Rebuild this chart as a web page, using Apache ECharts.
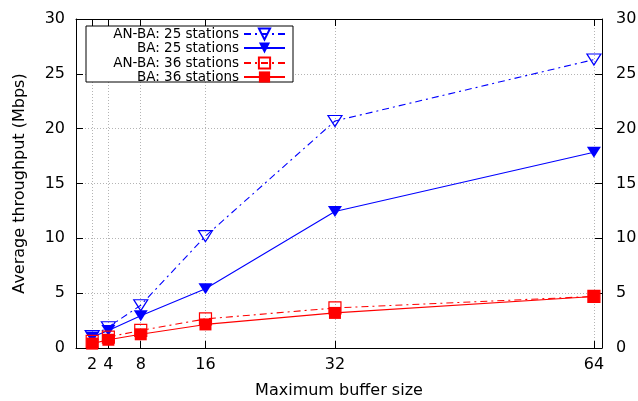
<!DOCTYPE html>
<html><head><meta charset="utf-8">
<script src="https://cdn.jsdelivr.net/npm/echarts@6/dist/echarts.min.js"></script>
<style>html,body{margin:0;padding:0;background:#fff}#c{width:638px;height:401px}</style>
</head><body><div id="c"></div>
<script>
const xTicks = [2, 4, 8, 16, 32, 64];
const yTicks = [0, 5, 10, 15, 20, 25, 30];
const seriesNames = ['AN-BA: 25 stations', 'BA: 25 stations', 'AN-BA: 36 stations', 'BA: 36 stations'];
const anba25 = [1.1, 1.9, 3.9, 10.2, 20.7, 26.3];
const ba25 = [1.0, 1.6, 2.95, 5.4, 12.45, 17.85];
const anba36 = [0.6, 1.0, 1.6, 2.65, 3.65, 4.7];
const ba36 = [0.4, 0.75, 1.25, 2.15, 3.2, 4.7];

const FONT = 'DejaVu Sans';
const dashDot = [7, 4, 2, 4];
function pts(arr) { return xTicks.map((x, i) => [x, arr[i]]); }

const chart = echarts.init(document.getElementById('c'), null, {renderer: 'canvas'});
const axisLine = {show: true, onZero: false, lineStyle: {color: '#000', width: 1}};
const tickIn = {show: true, inside: true, length: 7, lineStyle: {color: '#000'}};
const grid = {show: true, lineStyle: {color: '#b4b4b4', type: [1, 2], width: 1}};

function mkSeries(name, data, color, dashed, symbol, filled, rotate, size) {
  return {
    name, type: 'line', data: pts(data), symbol, symbolSize: size, symbolRotate: rotate,
    showSymbol: true, animation: false,
    lineStyle: {color, width: 1.1, type: dashed ? dashDot : 'solid'},
    itemStyle: filled ? {color, borderColor: color, borderWidth: 0} : {color: 'rgba(255,255,255,0)', borderColor: color, borderWidth: 1.2},
    color
  };
}

const legendTops = [27, 41, 56, 70];
const legends = seriesNames.map((n, i) => ({
  data: [n], orient: 'vertical', right: 352, top: legendTops[i], align: 'right',
  padding: 0, itemWidth: 41, itemHeight: 14, itemGap: 0, selectedMode: false,
  textStyle: {fontFamily: FONT, fontSize: 13.5, color: '#000'}
}));

chart.setOption({
  animation: false,
  backgroundColor: '#fff',
  grid: {left: 76, right: 36, top: 19, bottom: 53, containLabel: false, outerBoundsMode: 'none'},
  legend: legends,
  graphic: [{type: 'rect', shape: {x: 86, y: 26, width: 207, height: 56}, style: {fill: '#fff', stroke: '#000', lineWidth: 1}, z: 3}],
  xAxis: [
    {type: 'value', min: 0, max: 65, position: 'bottom',
     name: 'Maximum buffer size', nameLocation: 'middle', nameGap: 35,
     nameTextStyle: {fontFamily: FONT, fontSize: 16, color: '#000'},
     axisLine, axisTick: Object.assign({}, tickIn, {customValues: xTicks}),
     axisLabel: {customValues: xTicks, fontFamily: FONT, fontSize: 16, color: '#000', margin: 9},
     splitLine: grid},
    {type: 'value', min: 0, max: 65, position: 'top',
     axisLine, axisTick: Object.assign({}, tickIn, {customValues: xTicks}),
     axisLabel: {show: false, customValues: xTicks}, splitLine: {show: false}}
  ],
  yAxis: [
    {type: 'value', min: 0, max: 30, interval: 5, position: 'left',
     name: 'Average throughput (Mbps)', nameLocation: 'middle', nameGap: 48,
     nameTextStyle: {fontFamily: FONT, fontSize: 16, color: '#000'},
     axisLine, axisTick: tickIn,
     axisLabel: {fontFamily: FONT, fontSize: 16, color: '#000', margin: 11},
     splitLine: grid},
    {type: 'value', min: 0, max: 30, interval: 5, position: 'right',
     axisLine, axisTick: tickIn,
     axisLabel: {fontFamily: FONT, fontSize: 16, color: '#000', margin: 14},
     splitLine: {show: false}}
  ],
  series: [
    mkSeries(seriesNames[0], anba25, '#0000ff', true, 'triangle', false, 180, [14, 11]),
    mkSeries(seriesNames[1], ba25, '#0000ff', false, 'triangle', true, 180, [14, 11]),
    mkSeries(seriesNames[2], anba36, '#ff0000', true, 'rect', false, 0, 12),
    mkSeries(seriesNames[3], ba36, '#ff0000', false, 'rect', true, 0, 12)
  ]
});
</script></body></html>
